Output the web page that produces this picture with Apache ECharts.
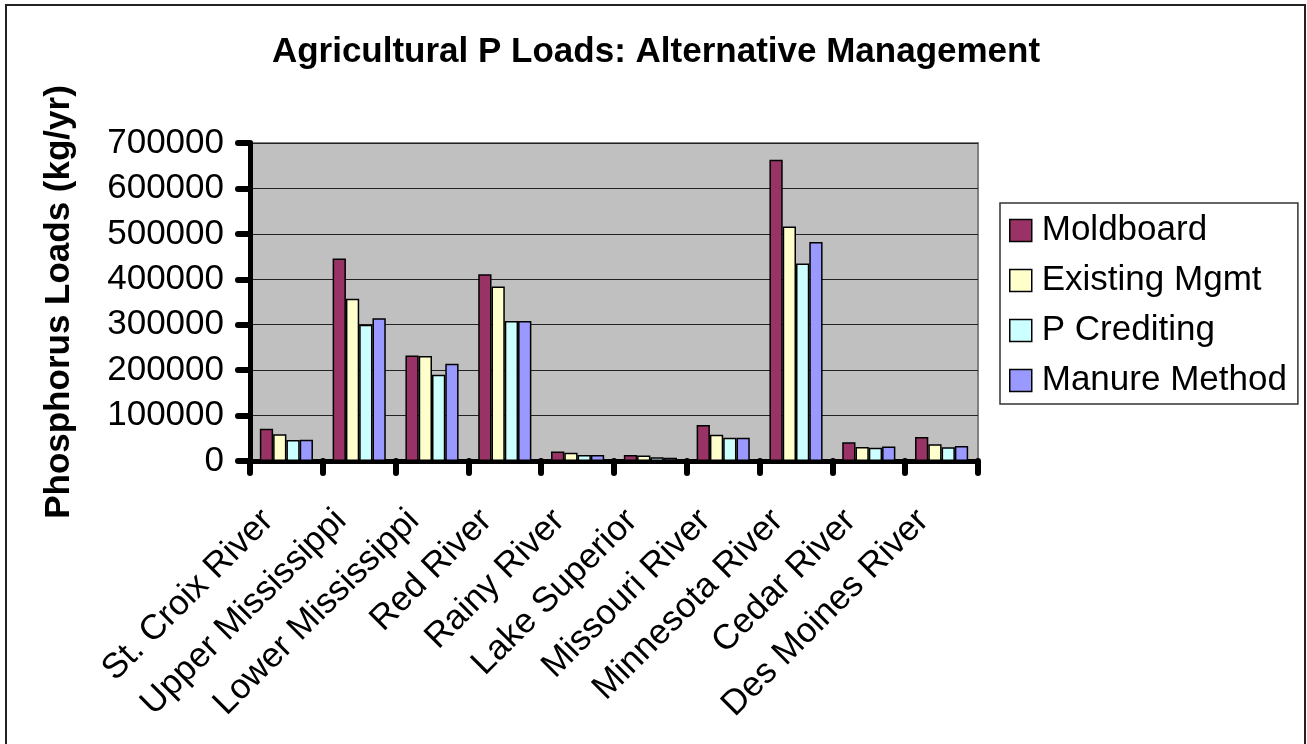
<!DOCTYPE html>
<html>
<head>
<meta charset="utf-8">
<title>Agricultural P Loads: Alternative Management</title>
<script src="https://cdn.jsdelivr.net/npm/echarts@6/dist/echarts.min.js"></script>
<style>
  html, body { margin: 0; padding: 0; background: #ffffff; }
  #chart { width: 1307px; height: 744px; }
</style>
</head>
<body>
<div id="chart"></div>
<script>
// Basins along the category axis
const basins = [
  'St. Croix River', 'Upper Mississippi', 'Lower Mississippi', 'Red River',
  'Rainy River', 'Lake Superior', 'Missouri River', 'Minnesota River',
  'Cedar River', 'Des Moines River'
];

// Agricultural phosphorus loads (kg/yr) under each management scenario
const moldboard    = [71000, 446000, 232000, 411000, 21000, 13000, 79000, 663000, 41000, 53000];
const existingMgmt = [59000, 357000, 231000, 384000, 18000, 12000, 58000, 516000, 31000, 37000];
const pCrediting   = [46000, 300000, 190000, 308000, 13000,  8000, 51000, 435000, 29000, 30000];
const manureMethod = [47000, 314000, 214000, 308000, 13000,  7000, 51000, 482000, 32000, 33000];

const seriesNames  = ['Moldboard', 'Existing Mgmt', 'P Crediting', 'Manure Method'];
const seriesColors = ['#993366', '#FFFFCC', '#CCFFFF', '#9999FF'];
const seriesData   = [moldboard, existingMgmt, pCrediting, manureMethod];

// Value axis ticks
const yMin = 0, yMax = 700000, yStep = 100000;

const FONT = 'Arial, "Liberation Sans", Helvetica, sans-serif';

const chart = echarts.init(document.getElementById('chart'), null, { renderer: 'canvas' });

const axisLineStyle = { color: '#000', width: 5, cap: 'round' };
const tickStyle = { color: '#000', width: 6, cap: 'round' };

chart.setOption({
  backgroundColor: '#ffffff',
  animation: false,
  textStyle: { fontFamily: FONT, color: '#000' },
  title: {
    text: 'Agricultural P Loads: Alternative Management',
    left: 651,
    top: 30,
    textAlign: 'center',
    textStyle: { fontFamily: FONT, fontSize: 35, fontWeight: 'bold', color: '#000' }
  },
  graphic: [
    {
      type: 'rect',
      shape: { x: 6, y: 5, width: 1299, height: 780 },
      style: { fill: 'none', stroke: '#222', lineWidth: 2 },
      silent: true,
      z: -1
    }
  ],
  legend: {
    orient: 'vertical',
    left: 1000,
    top: 203,
    padding: [10, 11, 6, 9],
    itemGap: 15,
    itemWidth: 22,
    itemHeight: 22,
    icon: 'rect',
    borderColor: '#333',
    borderWidth: 1.5,
    backgroundColor: '#ffffff',
    itemStyle: { borderColor: '#000', borderWidth: 1.5 },
    textStyle: { fontFamily: FONT, fontSize: 35, color: '#000', lineHeight: 35, padding: [0, 0, 0, 5] },
    data: seriesNames
  },
  grid: {
    left: 250,
    right: 329,
    top: 143,
    bottom: 283,
    show: true,
    backgroundColor: '#C0C0C0',
    borderColor: '#808080',
    borderWidth: 2
  },
  xAxis: {
    type: 'category',
    data: basins,
    boundaryGap: true,
    axisLine: { show: true, lineStyle: axisLineStyle },
    axisTick: { show: true, length: 12, alignWithLabel: false, lineStyle: tickStyle },
    axisLabel: {
      interval: 0,
      rotate: 45,
      margin: 36,
      padding: [0, 26, 0, 0],
      fontFamily: FONT,
      fontSize: 35,
      color: '#000'
    },
    splitLine: { show: false }
  },
  yAxis: {
    type: 'value',
    min: yMin,
    max: yMax,
    interval: yStep,
    name: 'Phosphorus Loads (kg/yr)',
    nameLocation: 'middle',
    nameRotate: 90,
    nameGap: 173,
    nameTextStyle: { fontFamily: FONT, fontSize: 35, fontWeight: 'bold', color: '#000' },
    axisLine: { show: true, lineStyle: axisLineStyle },
    axisTick: { show: true, length: 12, lineStyle: tickStyle },
    axisLabel: {
      margin: 26,
      fontFamily: FONT,
      fontSize: 35,
      color: '#000',
      formatter: (v) => String(v)
    },
    splitLine: { show: true, lineStyle: { color: '#222', width: 1 } }
  },
  series: seriesNames.map((name, i) => ({
    name: name,
    type: 'bar',
    data: seriesData[i],
    barGap: '0%',
    barCategoryGap: '27%',
    itemStyle: { color: seriesColors[i], borderColor: '#000', borderWidth: 1.5 },
    z: 3
  }))
});
</script>
</body>
</html>
